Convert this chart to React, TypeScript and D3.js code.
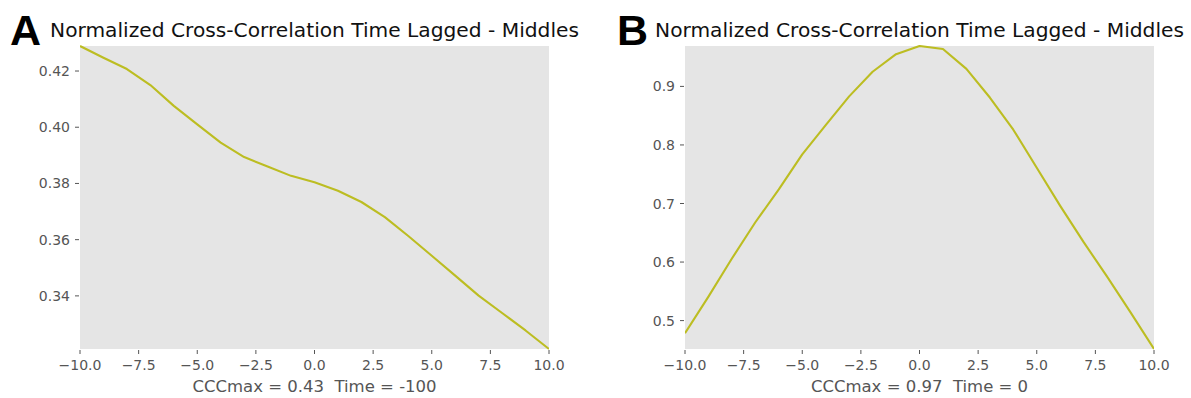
import React from "react";
import * as d3 from "d3";

const lags = [-10, -9, -8, -7, -6, -5, -4, -3, -2, -1, 0, 1, 2, 3, 4, 5, 6, 7, 8, 9, 10];
const seriesA = [0.4289, 0.4247, 0.4207, 0.415, 0.4076, 0.401, 0.3945, 0.3894, 0.386, 0.3827, 0.3804, 0.3774, 0.3734, 0.368, 0.3613, 0.3543, 0.3472, 0.3401, 0.3339, 0.3277, 0.3211];
const seriesB = [0.4785, 0.541, 0.606, 0.668, 0.724, 0.784, 0.834, 0.883, 0.925, 0.955, 0.969, 0.964, 0.93, 0.881, 0.826, 0.761, 0.696, 0.634, 0.575, 0.514, 0.4515];
const xTicks = [-10, -7.5, -5, -2.5, 0, 2.5, 5, 7.5, 10];
const yTicksA = [0.34, 0.36, 0.38, 0.4, 0.42];
const yTicksB = [0.5, 0.6, 0.7, 0.8, 0.9];
const titleText = "Normalized Cross-Correlation Time Lagged - Middles";
const panelLetters = ["A", "B"];
const xLabels = ["CCCmax = 0.43  Time = -100", "CCCmax = 0.97  Time = 0"];

const FONT = "'DejaVu Sans', sans-serif";
const TICK = "#555555";

function fmtX(v: number) {
  return d3.format(".1f")(v).replace("-", "\u2212");
}

type PanelProps = {
  left: number;
  right: number;
  values: number[];
  yTicks: number[];
  yFmt: string;
  letter: string;
  letterX: number;
  xlabel: string;
};

function Panel({ left, right, values, yTicks, yFmt, letter, letterX, xlabel }: PanelProps) {
  const top = 46;
  const bottom = 349;
  const x = d3.scaleLinear().domain([-10, 10]).range([left, right]);
  const ext = d3.extent(values) as [number, number];
  const y = d3.scaleLinear().domain(ext).range([bottom, top]);
  const line = d3
    .line<number>()
    .x((_, i) => x(lags[i]))
    .y((d) => y(d));
  const cx = (left + right) / 2;
  return (
    <g>
      <rect x={left} y={top} width={right - left} height={bottom - top} fill="#E5E5E5" />
      <clipPath id={"clip" + letter}>
        <rect x={left} y={top - 1} width={right - left} height={bottom - top + 2} />
      </clipPath>
      <path d={line(values) || ""} fill="none" stroke="#bcbd22" strokeWidth={2.1} strokeLinejoin="round" clipPath={`url(#clip${letter})`} />
      {xTicks.map((t) => (
        <g key={t}>
          <line x1={x(t)} x2={x(t)} y1={bottom + 1} y2={bottom + 5} stroke={TICK} strokeWidth={1} />
          <text x={x(t)} y={bottom + 21} textAnchor="middle" fontFamily={FONT} fontSize={14} fill={TICK}>
            {fmtX(t)}
          </text>
        </g>
      ))}
      {yTicks.map((t) => (
        <g key={t}>
          <line x1={left - 5} x2={left - 1} y1={y(t)} y2={y(t)} stroke={TICK} strokeWidth={1} />
          <text x={left - 10} y={y(t)} dy="0.36em" textAnchor="end" fontFamily={FONT} fontSize={14} fill={TICK}>
            {d3.format(yFmt)(t)}
          </text>
        </g>
      ))}
      <text x={cx} y={392} textAnchor="middle" fontFamily={FONT} fontSize={16.5} fill={TICK} style={{ whiteSpace: "pre" }}>
        {xlabel}
      </text>
      <text x={cx} y={37} textAnchor="middle" fontFamily={FONT} fontSize={20.2} fill="#111">
        {titleText}
      </text>
      <text x={letterX} y={45} fontFamily="'Liberation Sans', Arial, sans-serif" fontWeight="bold" fontSize={43} fill="#000">
        {letter}
      </text>
    </g>
  );
}

export default function App() {
  return (
    <svg width={1191} height={398} style={{ position: "absolute", left: 0, top: 0, background: "#fff" }}>
      <rect width={1191} height={398} fill="#fff" />
      <Panel left={80} right={549} values={seriesA} yTicks={yTicksA} yFmt=".2f" letter={panelLetters[0]} letterX={10} xlabel={xLabels[0]} />
      <Panel left={685} right={1154} values={seriesB} yTicks={yTicksB} yFmt=".1f" letter={panelLetters[1]} letterX={617} xlabel={xLabels[1]} />
    </svg>
  );
}
